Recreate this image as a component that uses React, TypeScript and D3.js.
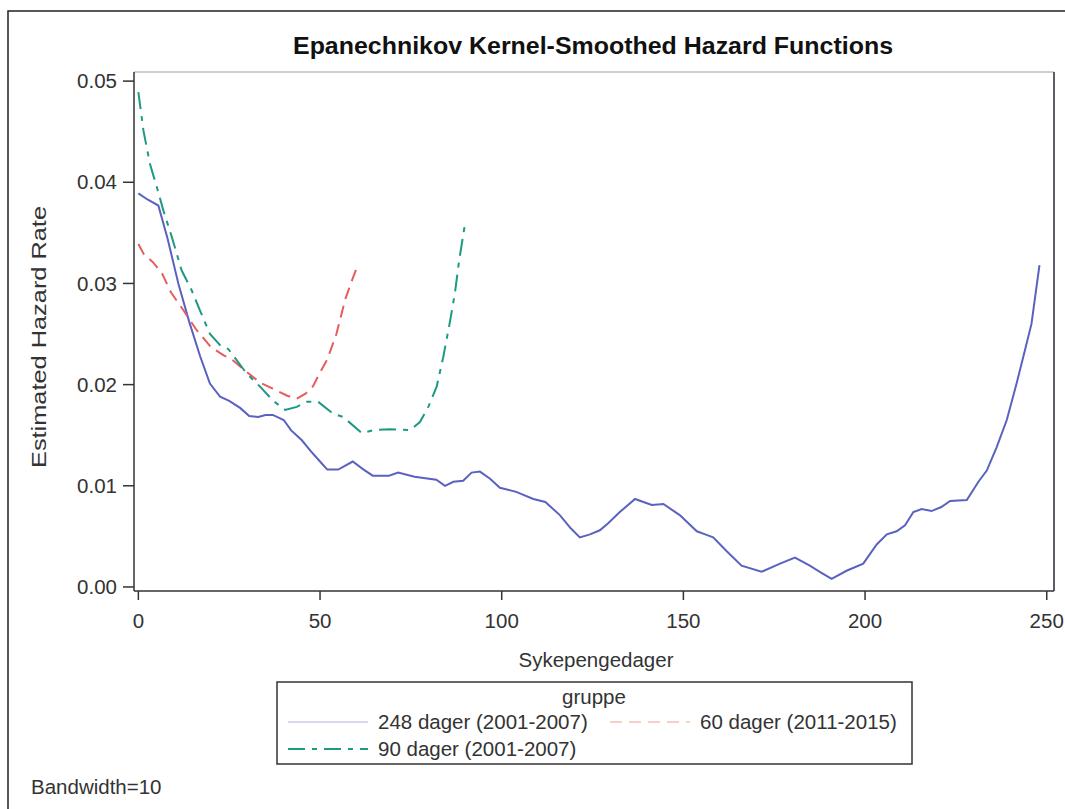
import * as d3 from 'd3';

// 248 dager (2001-2007)
const longDays = [0, 2.5, 5.5, 8, 11, 14, 17, 19.7, 22.5, 25, 28, 30.5, 33, 35, 37, 40, 42, 45, 47.5, 50, 52, 55, 59, 62, 64.5, 69, 71.5, 76, 82, 84.4, 86.7, 89.4, 91.7, 94, 96.8, 99.5, 104, 108.7, 112, 116, 119, 121.5, 124.3, 127, 129.3, 132.5, 136.7, 139, 141.3, 144.5, 149, 153.7, 156, 158.2, 162, 166, 171.5, 176.6, 180.7, 184.8, 188, 190.8, 194.9, 199.5, 203.2, 206, 208.7, 211, 213.3, 215.6, 218.3, 221, 223.4, 228, 231.2, 233.5, 236.2, 239, 241.7, 244, 245.8, 248];
const longHazard = [0.0389, 0.0383, 0.0377, 0.0345, 0.03, 0.0262, 0.0228, 0.0201, 0.0188, 0.0184, 0.0177, 0.0169, 0.0168, 0.017, 0.017, 0.0165, 0.0155, 0.0145, 0.0134, 0.0124, 0.0116, 0.0116, 0.0124, 0.0116, 0.011, 0.011, 0.0113, 0.0109, 0.0106, 0.01, 0.0104, 0.0105, 0.0113, 0.0114, 0.0107, 0.0098, 0.0094, 0.0087, 0.0084, 0.0071, 0.0058, 0.0049, 0.0052, 0.0056, 0.0063, 0.0074, 0.0087, 0.0084, 0.0081, 0.0082, 0.0071, 0.0055, 0.0052, 0.0049, 0.0035, 0.0021, 0.0015, 0.0023, 0.0029, 0.0021, 0.0014, 0.0008, 0.0016, 0.0023, 0.0042, 0.0052, 0.0055, 0.0061, 0.0074, 0.0077, 0.0075, 0.0079, 0.0085, 0.0086, 0.0104, 0.0115, 0.0138, 0.0165, 0.0201, 0.0234, 0.026, 0.0318];

// 60 dager (2011-2015)
const shortDays = [0, 1.5, 4, 6.5, 9, 12.5, 16, 20, 23.5, 26, 30, 33.5, 37, 41, 43.5, 46, 48, 50, 52, 54.5, 57, 59, 60.5];
const shortHazard = [0.0339, 0.0329, 0.0321, 0.031, 0.0291, 0.0273, 0.0254, 0.0237, 0.0229, 0.0224, 0.0212, 0.0202, 0.0196, 0.0189, 0.0186, 0.0191, 0.0198, 0.0212, 0.0225, 0.025, 0.0285, 0.0305, 0.0319];

// 90 dager (2001-2007)
const midDays = [0, 1.4, 3.2, 5.1, 6.9, 9.2, 11.9, 14.7, 17, 19.7, 22.5, 24.8, 27.1, 29.8, 33.5, 37.1, 40.4, 43.6, 46.3, 49.5, 53.7, 56.4, 61.5, 64.7, 69.3, 74.8, 77.5, 79.8, 82.1, 83.9, 85.8, 87.1, 88.3, 89.9];
const midHazard = [0.0489, 0.0451, 0.0418, 0.0395, 0.0372, 0.0346, 0.0313, 0.0293, 0.0273, 0.025, 0.0239, 0.0235, 0.0224, 0.0211, 0.0198, 0.0184, 0.0175, 0.0178, 0.0183, 0.0183, 0.0171, 0.0168, 0.0152, 0.0155, 0.0156, 0.0155, 0.0163, 0.0178, 0.0198, 0.0227, 0.0263, 0.029, 0.0323, 0.0359];

const xTicks = [0, 50, 100, 150, 200, 250];
const yTicks = [0, 0.01, 0.02, 0.03, 0.04, 0.05];

const font = '"Liberation Sans", Arial, sans-serif';

const series = [
  { name: '248 dager (2001-2007)', days: longDays, hazard: longHazard, color: '#5a62c0', legendColor: '#d6d8f0', dash: undefined },
  { name: '60 dager (2011-2015)', days: shortDays, hazard: shortHazard, color: '#e65d5d', legendColor: '#f6d0c6', dash: '12 7' },
  { name: '90 dager (2001-2007)', days: midDays, hazard: midHazard, color: '#1e9984', legendColor: '#1e9984', dash: '17 7 5 7' },
];

const App = () => {
  const width = 1065;
  const height = 809;
  const plot = { left: 134, right: 1054, top: 72, bottom: 591 };

  const x = d3.scaleLinear().domain([-1.2, 252]).range([plot.left, plot.right]);
  const y = d3.scaleLinear().domain([-0.0004, 0.0509]).range([plot.bottom, plot.top]);

  const line = d3
    .line<[number, number]>()
    .x(d => x(d[0]))
    .y(d => y(d[1]));

  const legendRows = [
    { s: series[0], lx: 288, tx: 378, ly: 722 },
    { s: series[1], lx: 610, tx: 700, ly: 722 },
    { s: series[2], lx: 288, tx: 378, ly: 749 },
  ];

  return (
    <svg
      width={width}
      height={height}
      viewBox={`0 0 ${width} ${height}`}
      style={{ position: 'absolute', left: 0, top: 0, background: '#fff' }}
      fontFamily={font}
    >
      {/* outer frame */}
      <rect x={8} y={11} width={1070} height={820} fill="none" stroke="#222" strokeWidth={1.5} />

      <text
        x={593}
        y={54}
        textAnchor="middle"
        fontSize={23}
        fontWeight="bold"
        fill="#111"
        textLength={600}
        lengthAdjust="spacingAndGlyphs"
      >
        Epanechnikov Kernel-Smoothed Hazard Functions
      </text>

      {/* plot frame */}
      <line x1={plot.left} x2={plot.right} y1={plot.top} y2={plot.top} stroke="#cfcfcf" strokeWidth={2} />
      <line x1={plot.right} x2={plot.right} y1={plot.top} y2={plot.bottom} stroke="#5d5d68" strokeWidth={2} />
      <line x1={plot.left} x2={plot.left} y1={plot.top} y2={plot.bottom} stroke="#333" strokeWidth={1.5} />
      <line x1={plot.left} x2={plot.right} y1={plot.bottom} y2={plot.bottom} stroke="#333" strokeWidth={1.5} />

      {yTicks.map(t => (
        <g key={t}>
          <line x1={123} x2={plot.left} y1={y(t)} y2={y(t)} stroke="#333" strokeWidth={1.5} />
          <text x={117} y={y(t)} dy="0.35em" textAnchor="end" fontSize={20.5} fill="#333">
            {d3.format('.2f')(t)}
          </text>
        </g>
      ))}
      {xTicks.map(t => (
        <g key={t}>
          <line x1={x(t)} x2={x(t)} y1={plot.bottom} y2={600} stroke="#333" strokeWidth={1.5} />
          <text x={x(t)} y={628} textAnchor="middle" fontSize={20.5} fill="#333">
            {t}
          </text>
        </g>
      ))}

      <text
        transform="translate(46,337) rotate(-90)"
        textAnchor="middle"
        fontSize={21}
        fill="#333"
        textLength={262}
        lengthAdjust="spacingAndGlyphs"
      >
        Estimated Hazard Rate
      </text>
      <text x={596} y={667} textAnchor="middle" fontSize={20.5} fill="#333">
        Sykepengedager
      </text>

      {series.map(s => (
        <path
          key={s.name}
          d={line(s.days.map((d, i) => [d, s.hazard[i]] as [number, number])) || ''}
          fill="none"
          stroke={s.color}
          strokeWidth={2}
          strokeDasharray={s.dash}
        />
      ))}

      {/* legend */}
      <rect x={277} y={682} width={635} height={82} fill="#fff" stroke="#333" strokeWidth={1.5} />
      <text x={594} y={704} textAnchor="middle" fontSize={20.5} fill="#333">
        gruppe
      </text>
      {legendRows.map(r => (
        <g key={r.s.name}>
          <line
            x1={r.lx}
            x2={r.lx + 80}
            y1={r.ly}
            y2={r.ly}
            stroke={r.s.legendColor}
            strokeWidth={2}
            strokeDasharray={r.s.dash}
          />
          <text x={r.tx} y={r.ly} dy="0.35em" fontSize={20.5} fill="#333">
            {r.s.name}
          </text>
        </g>
      ))}

      <text x={31} y={794} fontSize={20.5} fill="#333">
        Bandwidth=10
      </text>
    </svg>
  );
};

export default App;
